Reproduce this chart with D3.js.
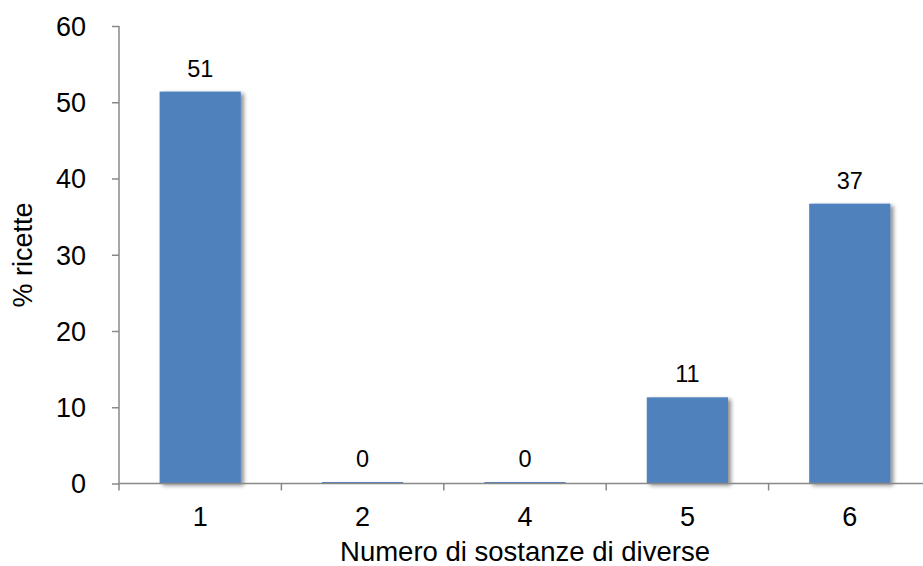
<!DOCTYPE html>
<html><head><meta charset="utf-8">
<script src="https://cdn.jsdelivr.net/npm/d3@7"></script>
<style>html,body{margin:0;padding:0;background:#fff;overflow:hidden}</style>
</head><body>
<svg id="c" width="923" height="566"></svg>
<script>
const categories = ["1","2","4","5","6"];
const values = [51.4, 0.2, 0.2, 11.3, 36.7];
const yTicks = [0,10,20,30,40,50,60];
const xTitle = "Numero di sostanze di diverse";
const yTitle = "% ricette";

const svg = d3.select("#c");
const font = "'Liberation Sans', Arial, sans-serif";
const axisColor = "#898989";

const x = d3.scaleBand().domain(categories).range([119, 931]).paddingInner(0.5).paddingOuter(0.25);
const y = d3.scaleLinear().domain([0, 60]).range([483.5, 26]);

const defs = svg.append("defs");
const f = defs.append("filter").attr("id","sh").attr("x","-20%").attr("y","-20%").attr("width","150%").attr("height","150%");
f.append("feGaussianBlur").attr("in","SourceAlpha").attr("stdDeviation",2).attr("result","b");
f.append("feOffset").attr("in","b").attr("dx",3).attr("dy",2).attr("result","o");
f.append("feComponentTransfer").attr("in","o").attr("result","o2").append("feFuncA").attr("type","linear").attr("slope",0.45);
const m = f.append("feMerge"); m.append("feMergeNode").attr("in","o2"); m.append("feMergeNode").attr("in","SourceGraphic");

// bars
svg.append("g").selectAll("rect").data(values).join("rect")
  .attr("x",(d,i)=>x(categories[i]))
  .attr("y",d=>y(d))
  .attr("width",x.bandwidth())
  .attr("height",d=>y(0)-y(d))
  .attr("fill","#4F81BD")
  .attr("filter","url(#sh)");

// data labels
svg.append("g").selectAll("text").data(values).join("text")
  .attr("x",(d,i)=>x(categories[i])+x.bandwidth()/2)
  .attr("y",d=>y(d)-15)
  .attr("text-anchor","middle")
  .attr("font-family",font).attr("font-size",23.5).attr("fill","#000")
  .text(d=>Math.round(d));

// y axis
const yAxis = svg.append("g").attr("transform","translate(119,0)")
  .call(d3.axisLeft(y).tickValues(yTicks).tickSize(7).tickPadding(26).tickFormat(d3.format("d")));
yAxis.select(".domain").attr("stroke",axisColor).attr("stroke-width",1.5).attr("d",`M0,${y(60)}V${y(0)}`);
yAxis.selectAll(".tick line").attr("stroke",axisColor).attr("stroke-width",1.5);
yAxis.selectAll("text").attr("font-family",font).attr("font-size",27).attr("fill","#000").attr("dy","0.35em");

// x axis
const bounds = categories.map(c=>x(c)-x.step()*x.paddingInner()/2);
const xAxis = svg.append("g").attr("transform",`translate(0,${y(0)})`)
  .call(d3.axisBottom(x).tickSize(0).tickPadding(42));
xAxis.select(".domain").attr("stroke",axisColor).attr("stroke-width",1.5).attr("d","M119,0H931");
xAxis.selectAll("text").attr("font-family",font).attr("font-size",27).attr("fill","#000").attr("dy","0");
xAxis.selectAll(".bt").data(bounds.concat([931])).join("line").attr("class","bt")
  .attr("x1",d=>d).attr("x2",d=>d).attr("y1",0).attr("y2",7)
  .attr("stroke",axisColor).attr("stroke-width",1.5);

// titles
svg.append("text").attr("x",525).attr("y",561).attr("text-anchor","middle")
  .attr("font-family",font).attr("font-size",27.5).attr("fill","#000").text(xTitle);
svg.append("text").attr("transform","translate(32,255) rotate(-90)").attr("text-anchor","middle")
  .attr("font-family",font).attr("font-size",27).attr("fill","#000").text(yTitle);
</script>
</body></html>
